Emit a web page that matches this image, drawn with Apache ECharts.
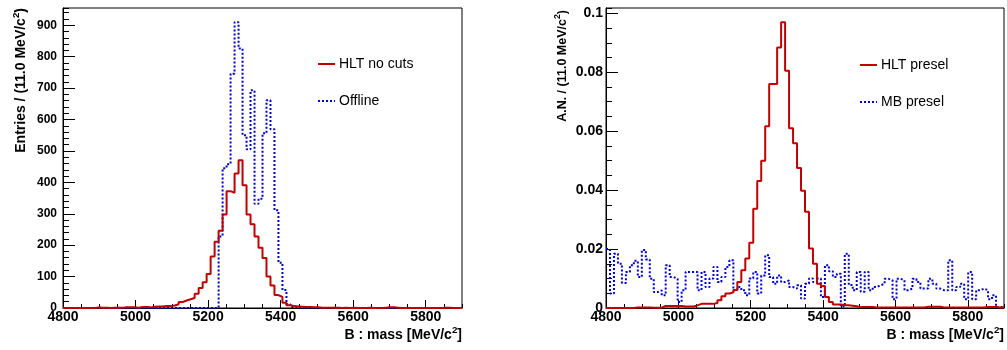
<!DOCTYPE html>
<html>
<head>
<meta charset="utf-8">
<script src="https://cdn.jsdelivr.net/npm/echarts@6/dist/echarts.min.js"></script>
<style>
html,body{margin:0;padding:0;background:#fff;}
#c{width:1007px;height:350px;}
</style>
</head>
<body>
<div id="c"></div>
<script>
// ---- data (100 bins of 11 MeV from 4800 to 5900) ----
const binStart = 4800;
const binWidth = 11;
const xTicks = [4800, 5000, 5200, 5400, 5600, 5800];

const hltNoCuts = [
  0,0,0,0,0,0,0,0,2,1, 1,0,1,1,1,2,2,2,1,3,
  3,2,4,5,5,6,6,8,12,19, 24,28,32,45,64,82,108,164,211,246,
  298,372,367,428,470,391,298,267,228,192, 159,100,72,41,35,17,9,6,5,4,
  3,3,2,2,1,1,1,1,1,0, 1,0,1,0,0,0,1,0,0,0,
  1,2,2,1,0,0,0,0,0,0, 0,0,0,0,0,1,1,0,0,0
];
const offline = [
  0,0,0,0,0,0,0,0,0,0, 0,0,0,0,0,0,0,0,0,0,
  0,0,0,0,0,0,0,0,0,0, 0,0,0,0,0,0,0,0,0,228,
  445,458,746,910,826,550,505,693,332,348, 556,661,569,311,144,57,12,3,2,1,
  1,1,0,0,0,0,0,0,0,0, 0,0,0,0,0,0,0,0,0,0,
  0,0,0,0,0,0,0,0,0,0, 0,0,0,0,0,0,0,0,0,0
];
const hltPresel = [
  0,0,0,0,0,0,0,0.0002,0.0002,0.0002, 0.0002,0.0001,0.0001,0.0001,0.0007,0.0007,0.0007,0.0007,0.0007,0.0005,
  0.0005,0.0005,0.0009,0.0014,0.0014,0.0014,0.0014,0.0017,0.0026,0.0040, 0.0049,0.0053,0.0061,0.0088,0.0128,0.0168,0.0221,0.0337,0.0431,0.0500,
  0.0617,0.0760,0.0760,0.0884,0.0970,0.0805,0.0610,0.0559,0.0475,0.0398, 0.0327,0.0202,0.0150,0.0082,0.0075,0.0037,0.0020,0.0012,0.0012,0.0009,
  0.0009,0.0008,0.0006,0.0003,0.0003,0.0003,0.0003,0.0002,0.0002,0.0002, 0.0002,0.0002,0.0002,0.0002,0.0002,0.0002,0.0002,0.0002,0.0002,0.0002,
  0.0004,0.0004,0.0004,0.0004,0.0002,0.0002,0.0002,0.0002,0.0002,0.0002, 0.0002,0.0002,0.0002,0.0002,0.0002,0.0003,0.0003,0.0003,0.0002,0.0002
];
const mbPresel = [
  0.0200,0.0049,0.0184,0.0150,0.0085,0.0122,0.0145,0.0160,0.0105,0.0197,
  0.0165,0.0099,0.0054,0.0060,0.0043,0.0145,0.0105,0.0099,0.0020,0.0060,
  0.0122,0.0122,0.0122,0.0060,0.0122,0.0071,0.0100,0.0139,0.0088,0.0105,
  0.0139,0.0162,0.0060,0.0071,0.0060,0.0043,0.0100,0.0122,0.0049,0.0110,
  0.0179,0.0105,0.0082,0.0110,0.0088,0.0094,0.0071,0.0066,0.0077,0.0032,
  0.0082,0.0100,0.0088,0.0100,0.0037,0.0145,0.0125,0.0105,0.0116,0.0005,
  0.0184,0.0078,0.0060,0.0122,0.0055,0.0122,0.0060,0.0071,0.0077,0.0082,
  0.0099,0.0094,0.0030,0.0099,0.0094,0.0060,0.0066,0.0099,0.0088,0.0066,
  0.0066,0.0099,0.0082,0.0066,0.0060,0.0060,0.0162,0.0060,0.0071,0.0082,
  0.0030,0.0122,0.0030,0.0060,0.0066,0.0060,0.0030,0.0043,0.0003,0.0003
];

const leftNames = ['HLT no cuts', 'Offline'];
const rightNames = ['HLT presel', 'MB presel'];

// ---- helpers ----
function steps(vals) {
  const d = vals.map((v, i) => [binStart + binWidth * i, v]);
  d.push([binStart + binWidth * vals.length, vals[vals.length - 1]]);
  return d;
}
const FONT = "'Liberation Sans', Arial, Helvetica, sans-serif";
const RED = '#c00000';
const BLUE = '#0000cc';
const xMin = binStart, xMax = binStart + binWidth * 100;

function mainX(grid) {
  return {
    type: 'value', gridIndex: grid, min: xMin, max: xMax, interval: 200,
    position: 'bottom',
    axisLine: {show: true, lineStyle: {color: '#000', width: 1}},
    axisTick: {show: true, inside: true, length: 8, lineStyle: {color: '#000'}},
    axisLabel: {show: true, showMaxLabel: false, margin: 2, color: '#000',
      fontFamily: FONT, fontWeight: 'bold', fontSize: 14,
      formatter: v => String(v)},
    splitLine: {show: false}
  };
}
function minorX(grid) {
  return {
    type: 'value', gridIndex: grid, min: xMin, max: xMax, interval: 50,
    position: 'bottom',
    axisLine: {show: false},
    axisTick: {show: true, inside: true, length: 4, lineStyle: {color: '#000'}},
    axisLabel: {show: false}, splitLine: {show: false}
  };
}
function mainY(grid, max, interval, fs, margin) {
  return {
    type: 'value', gridIndex: grid, min: 0, max: max, interval: interval,
    position: 'left',
    axisLine: {show: true, lineStyle: {color: '#000', width: 1}},
    axisTick: {show: true, inside: true, length: 12, lineStyle: {color: '#000'}},
    axisLabel: {show: true, showMaxLabel: false, margin: margin, color: '#000',
      fontFamily: FONT, fontWeight: 'bold', fontSize: fs,
      formatter: v => String(+v.toPrecision(6))},
    splitLine: {show: false}
  };
}
function minorY(grid, max, interval) {
  return {
    type: 'value', gridIndex: grid, min: 0, max: max, interval: interval,
    position: 'left',
    axisLine: {show: false},
    axisTick: {show: true, inside: true, length: 6, lineStyle: {color: '#000'}},
    axisLabel: {show: false}, splitLine: {show: false}
  };
}
function hist(name, vals, xi, yi, color, dotted) {
  return {
    name: name, type: 'line', xAxisIndex: xi, yAxisIndex: yi,
    data: steps(vals), step: 'end', symbol: 'none', showSymbol: false,
    lineStyle: {color: color, width: 2, type: dotted ? [2, 2] : 'solid'},
    itemStyle: {color: color},
    silent: true, z: dotted ? 3 : 4
  };
}
function titleRich(fs) {
  return {
    m: {fontFamily: FONT, fontWeight: 'bold', fontSize: fs, lineHeight: 20, verticalAlign: 'middle', fill: '#000'},
    s: {fontFamily: FONT, fontWeight: 'bold', fontSize: fs * 0.7, lineHeight: 10, verticalAlign: 'top', fill: '#000'}
  };
}
function title(text, x, y, rot, align, fs) {
  return {
    type: 'text', x: x, y: y, rotation: rot, silent: true,
    style: {text: text, rich: titleRich(fs), align: align, verticalAlign: 'middle', fill: '#000'}
  };
}
function legend(names, left, top) {
  return {
    data: names, left: left, top: top, orient: 'vertical', padding: 0,
    itemWidth: 17, itemHeight: 14, itemGap: 23, selectedMode: false,
    itemStyle: {opacity: 0, borderWidth: 0},
    textStyle: {fontFamily: FONT, fontSize: 14, color: '#000', padding: [0, 0, 0, -1]}
  };
}

const chart = echarts.init(document.getElementById('c'), null, {renderer: 'canvas'});
chart.setOption({
  animation: false,
  backgroundColor: '#fff',
  grid: [
    {left: 63, top: 8, width: 399, height: 300, show: true, borderColor: '#000', borderWidth: 1},
    {left: 606, top: 8, width: 398, height: 300, show: true, borderColor: '#000', borderWidth: 1}
  ],
  xAxis: [mainX(0), minorX(0), mainX(1), minorX(1)],
  yAxis: [
    mainY(0, 955, 100, 12, 6), minorY(0, 955, 20),
    mainY(1, 0.1018, 0.02, 14, 3), minorY(1, 0.1018, 0.005)
  ],
  legend: [legend(leftNames, 317, 57), legend(rightNames, 859, 58)],
  series: [
    hist(leftNames[0], hltNoCuts, 0, 0, RED, false),
    hist(leftNames[1], offline, 0, 0, BLUE, true),
    hist(rightNames[0], hltPresel, 2, 2, RED, false),
    hist(rightNames[1], mbPresel, 2, 2, BLUE, true)
  ],
  graphic: [
    title('{m|Entries / (11.0 MeV/c}{s|2}{m|)}', 21, 8, Math.PI / 2, 'right', 14),
    title('{m|B : mass [MeV/c}{s|2}{m|]}', 462, 335, 0, 'right', 14),
    title('{m|A.N. / (11.0 MeV/c}{s|2}{m|)}', 563, 10, Math.PI / 2, 'right', 12.5),
    title('{m|B : mass [MeV/c}{s|2}{m|]}', 1004, 335, 0, 'right', 14)
  ]
});
</script>
</body>
</html>
